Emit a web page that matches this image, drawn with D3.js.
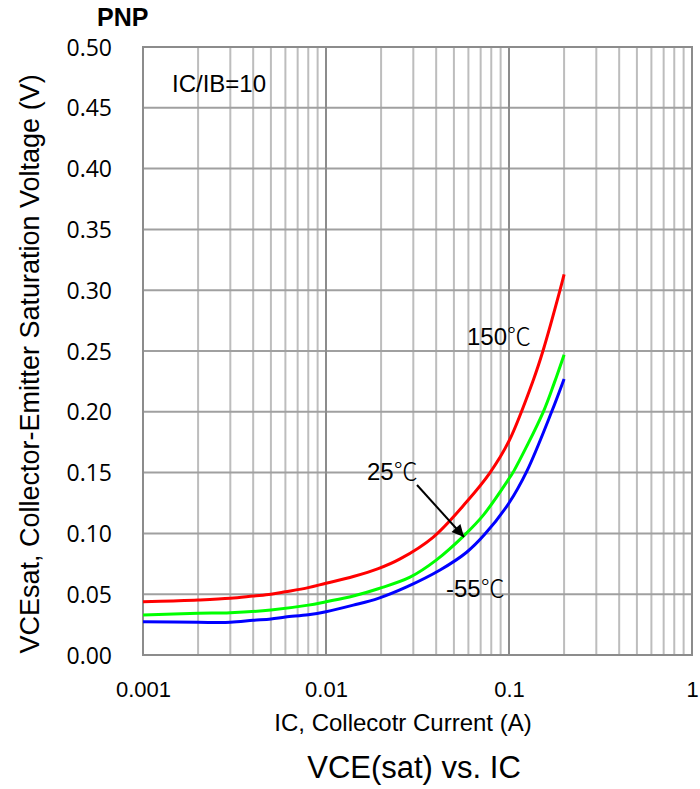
<!DOCTYPE html>
<html>
<head>
<meta charset="utf-8">
<script src="https://cdn.jsdelivr.net/npm/d3@7"></script>
<style>
body{margin:0;background:#fff;}
svg{display:block;}
text{font-family:"Liberation Sans",Arial,sans-serif;fill:#000;}
</style>
</head>
<body>
<svg id="chart" width="700" height="789"></svg>
<script>
// ---- data ----
const xTicks = [0.001, 0.01, 0.1, 1];
const xTickLabels = ["0.001", "0.01", "0.1", "1"];
const yTicks = [0, 0.05, 0.10, 0.15, 0.20, 0.25, 0.30, 0.35, 0.40, 0.45, 0.50];
const yTickLabels = ["0.00","0.05","0.10","0.15","0.20","0.25","0.30","0.35","0.40","0.45","0.50"];

const redIC  = [0.001,0.00146,0.002,0.003,0.004,0.005,0.006,0.008,0.01,0.0141,0.0193,0.0254,0.0386,0.0587,0.0788,0.1,0.1357,0.154,0.190,0.2];
const redV   = [0.0438,0.0445,0.0452,0.0466,0.0485,0.050,0.052,0.0554,0.059,0.0645,0.071,0.079,0.097,0.126,0.150,0.176,0.226,0.251,0.300,0.313];
const greenIC = [0.001,0.002,0.003,0.005,0.008,0.01,0.0141,0.0193,0.0288,0.040,0.0575,0.0724,0.1,0.106,0.154,0.177,0.2];
const greenV  = [0.0329,0.0343,0.0348,0.037,0.041,0.0438,0.0485,0.0545,0.064,0.078,0.099,0.115,0.145,0.151,0.200,0.224,0.247];
const blueIC = [0.001,0.002,0.003,0.004,0.005,0.006,0.008,0.01,0.0141,0.0193,0.0276,0.042,0.0587,0.0735,0.1,0.125,0.171,0.2];
const blueV  = [0.0274,0.0269,0.0269,0.0285,0.0296,0.0312,0.0331,0.0356,0.041,0.0466,0.056,0.0699,0.0845,0.099,0.125,0.151,0.200,0.227];

const seriesNames = ["150℃","25℃","-55℃"];
const seriesColors = ["#ff0000","#00ff00","#0000ff"];

// ---- layout ----
const svg = d3.select("#chart");
const L = 143, R = 692, T = 47, B = 655;
const x = d3.scaleLog().domain([0.001, 1]).range([L, R]);
const y = d3.scaleLinear().domain([0, 0.5]).range([B, T]);

// minor vertical gridlines
const minor = [];
[0.001,0.01,0.1].forEach(d => { for (let k=2;k<=9;k++) minor.push(d*k); });
svg.append("g").selectAll("line").data(minor).join("line")
  .attr("x1", d=>x(d)).attr("x2", d=>x(d)).attr("y1", T).attr("y2", B)
  .attr("stroke", "#bdbdbd").attr("stroke-width", 2);
// horizontal gridlines
svg.append("g").selectAll("line").data(yTicks).join("line")
  .attr("x1", L).attr("x2", R).attr("y1", d=>y(d)).attr("y2", d=>y(d))
  .attr("stroke", "#a0a0a0").attr("stroke-width", 2);
// major vertical
svg.append("g").selectAll("line").data(xTicks).join("line")
  .attr("x1", d=>x(d)).attr("x2", d=>x(d)).attr("y1", T).attr("y2", B)
  .attr("stroke", "#8c8c8c").attr("stroke-width", 2);
// border
svg.append("rect").attr("x", L).attr("y", T).attr("width", R-L).attr("height", B-T)
  .attr("fill","none").attr("stroke","#8c8c8c").attr("stroke-width",2);

// axes (labels only)
const yAxis = d3.axisLeft(y).tickValues(yTicks).tickSize(0).tickPadding(31)
  .tickFormat((d,i)=>yTickLabels[i]);
const gy = svg.append("g").attr("transform", `translate(${L},0)`).call(yAxis);
gy.select(".domain").remove();
gy.selectAll("text").style("font-family","'Open Sans',sans-serif").style("font-size","23px").attr("dy","0.35em");

const xAxis = d3.axisBottom(x).tickValues(xTicks).tickSize(0).tickPadding(26)
  .tickFormat((d,i)=>xTickLabels[i]);
const gx = svg.append("g").attr("transform", `translate(0,${B})`).call(xAxis);
gx.select(".domain").remove();
gx.selectAll("text").style("font-size","22px");

// curves
const line = d3.line().x(d=>x(d[0])).y(d=>y(d[1])).curve(d3.curveCatmullRom.alpha(0.5));
const sets = [[redIC,redV],[greenIC,greenV],[blueIC,blueV]];
sets.forEach((s,i)=>{
  const pts = s[0].map((v,j)=>[v, s[1][j]]);
  svg.append("path").attr("d", line(pts)).attr("fill","none")
    .attr("stroke", seriesColors[i]).attr("stroke-width", 3);
});

// annotations
function degLabel(txt, px, py){
  const t = svg.append("text").attr("x", px).attr("y", py).style("font-size","24px");
  const num = txt.replace("℃","");
  t.append("tspan").text(num);
  t.append("tspan").text("℃").style("font-family","'Noto Sans CJK SC',sans-serif").style("font-weight","300");
}
degLabel(seriesNames[0], 467, 345);
degLabel(seriesNames[1], 367, 480);
degLabel(seriesNames[2], 446, 597);

svg.append("text").attr("x",172).attr("y",92).style("font-size","24px").text("IC/IB=10");
svg.append("text").attr("x",97).attr("y",26).style("font-size","25px").style("font-weight","bold").text("PNP");

// arrow
svg.append("defs").append("marker").attr("id","ah").attr("viewBox","0 0 10 10")
  .attr("refX",10).attr("refY",5).attr("markerWidth",14).attr("markerHeight",12)
  .attr("orient","auto").attr("markerUnits","userSpaceOnUse")
  .append("path").attr("d","M0,0 L10,5 L0,10 Z").attr("fill","#000");
svg.append("line").attr("x1", 417).attr("y1", 485).attr("x2", 464).attr("y2", 537)
  .attr("stroke","#000").attr("stroke-width",2).attr("marker-end","url(#ah)");

// axis titles
svg.append("text").attr("x",403).attr("y",731).attr("text-anchor","middle").style("font-size","24px")
  .text("IC, Collecotr Current (A)");
svg.append("text").attr("transform","translate(39,364) rotate(-90)").attr("text-anchor","middle").style("font-size","27px")
  .text("VCEsat, Collector-Emitter Saturation Voltage (V)");
svg.append("text").attr("x",414).attr("y",778).attr("text-anchor","middle").style("font-size","31px")
  .text("VCE(sat) vs. IC");
</script>
</body>
</html>
